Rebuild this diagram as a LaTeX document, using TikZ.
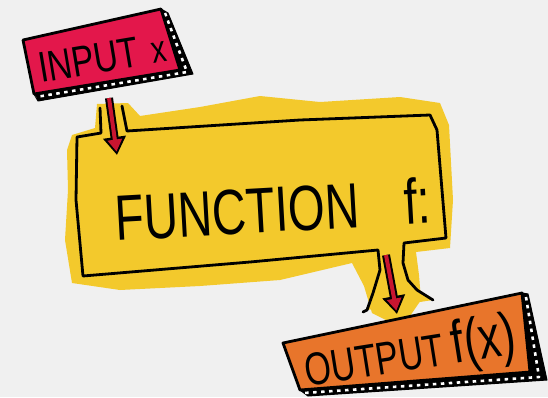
\documentclass[tikz,border=0pt]{standalone}
\usepackage{fontspec}
\setmainfont{Liberation Sans}
\newfontfamily\infont{Liberation Sans}[FakeStretch=0.78]
\newfontfamily\funfont{Liberation Sans}[FakeStretch=0.74]
\newfontfamily\outfont{Liberation Sans}[FakeStretch=0.74]
\usetikzlibrary{arrows.meta}
\definecolor{bg}{HTML}{F0F0F0}
\definecolor{inred}{HTML}{E3174B}
\definecolor{fyellow}{HTML}{F3C92C}
\definecolor{outorange}{HTML}{E8752B}
\definecolor{arrred}{HTML}{C81530}
\begin{document}
\begin{tikzpicture}[x=1pt,y=-1pt,line join=round,line cap=round,
  ink/.style={draw=black,line width=2.8pt},
  bandfill/.style={fill=black,draw=black,line width=1pt},
  bandstripe/.style={draw=white,line width=2.6pt,line cap=butt,dash pattern=on 3.5pt off 4.5pt},
  arrowout/.style={draw=black,line width=8pt,line cap=butt,-{Triangle[length=18pt,width=22pt]}},
  arrowin/.style={draw=arrred,line width=4pt,line cap=butt,shorten >=3.5pt,-{Triangle[length=12pt,width=14pt]}},
  label/.style={inner sep=0pt,anchor=base,text=black}]
\fill[bg] (0,0) rectangle (548,397);
\useasboundingbox (0,0) rectangle (548,397);
% yellow splotch
\fill[fyellow] (67,150) -- (72,135) -- (95,128) -- (97,104) -- (128,103) -- (140,116) -- (200,107)
  -- (260,96) -- (320,102) -- (400,97) -- (440,103) -- (449,125) -- (453,200) -- (450,248)
  -- (416,252) -- (419,275) -- (421,300) -- (410,316) -- (390,322) -- (372,313) -- (364,286)
  -- (352,263) -- (280,280) -- (200,286) -- (120,290) -- (72,283) -- (65,240) -- (68,190) -- cycle;
% function box
\fill[fyellow] (77,137) -- (100,134) -- (100,108) -- (122,106) -- (127,131) -- (430,115) -- (437,130)
  -- (446,238) -- (404,243) -- (404,265) -- (412,285) -- (425,294) -- (433,300)
  -- (367,310) -- (373,293) -- (380,270) -- (378,250) -- (83,276) -- cycle;
\draw[ink] (100,108) -- (101,133) -- (77,137) -- (76,200) -- (83,276) -- (250,262) -- (378,250)
  -- (380,270) -- (373,293) -- (367,310) -- (363,312);
\draw[ink] (122,106) -- (127,131) -- (300,120) -- (430,115) -- (437,130) -- (446,238) -- (404,243)
  -- (403,263) -- (408,280) -- (417,290) -- (433,300);
\node[label,rotate=3.2,font=\funfont\fontsize{64}{64}\selectfont] (ftext) at (274,232)
  {FUNCTION\hspace{0.7em}f:};
% arrows
\coordinate (inA) at (109,98);
\coordinate (inB) at (117,155);
\coordinate (outA) at (386,255);
\coordinate (outB) at (397,314);
\draw[arrowout] (inA) -- (inB);
\draw[arrowin] (inA) -- (inB);
\draw[arrowout] (outA) -- (outB);
\draw[arrowin] (outA) -- (outB);
% input box
\path[bandfill] (161,9) -- (168,13) -- (193,74) -- (38,101) -- (34,94) -- (180,70) -- cycle;
\draw[bandstripe] (165,13) -- (187,72) -- (36,97);
\filldraw[fill=inred,ink] (23,40) -- (161,9) -- (180,70) -- (34,94) -- cycle;
\node[label,rotate=9.5,font=\infont\fontsize{43}{43}\selectfont] (intext) at (105,72)
  {INPUT\hspace{0.3em}{\fontsize{38}{38}\selectfont x}};
% output box
\path[bandfill] (522,293) -- (528,294) -- (547,380) -- (308,396) -- (300,390) -- (530,372) -- cycle;
\draw[bandstripe] (526,297) -- (539,377) -- (304,393);
\filldraw[fill=outorange,ink] (283,343) -- (522,293) -- (530,372) -- (300,390) -- cycle;
\node[label,rotate=9,font=\outfont\fontsize{46}{46}\selectfont] (outtext) at (413,370)
  {OUTPUT\hspace{0.2em}{\fontsize{60}{60}\selectfont f(x)}};
\end{tikzpicture}
\end{document}
